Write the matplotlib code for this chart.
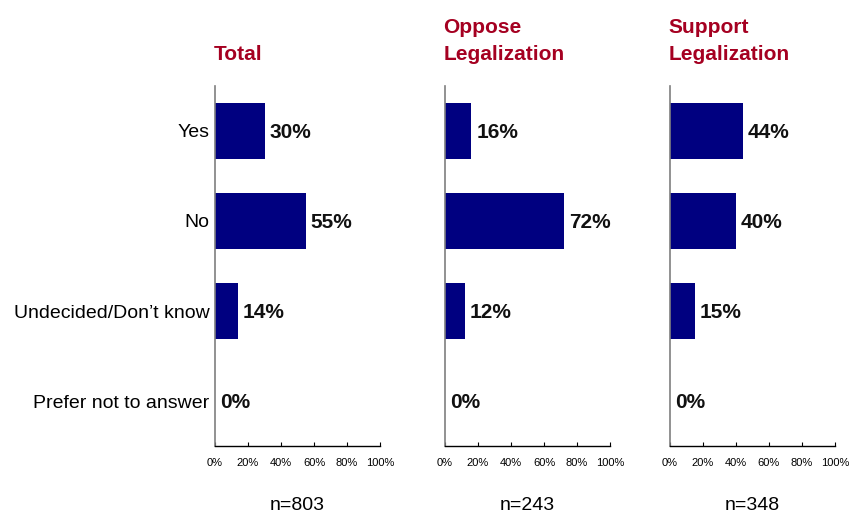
import matplotlib
matplotlib.use("Agg")
import matplotlib.pyplot as plt
from matplotlib.ticker import PercentFormatter

plt.rcParams['font.family'] = ['Liberation Sans', 'DejaVu Sans']

categories = ["Yes", "No", "Undecided/Don\u2019t know", "Prefer not to answer"]
panel_titles = ["Total", "Oppose\nLegalization", "Support\nLegalization"]
sample_sizes = ["n=803", "n=243", "n=348"]
total_values = [30, 55, 14, 0]
oppose_values = [16, 72, 12, 0]
support_values = [44, 40, 15, 0]
x_ticks = [0, 20, 40, 60, 80, 100]

series = [total_values, oppose_values, support_values]

W, H = 849, 517
fig = plt.figure(figsize=(W / 100, H / 100), dpi=100)

bar_color = "#000080"
title_color = "#A50021"

lefts_px = [215, 445, 670]
width_px = 165
top_px, bottom_px = 86, 446

for i, (vals, title, nlab) in enumerate(zip(series, panel_titles, sample_sizes)):
    ax = fig.add_axes([lefts_px[i] / W, (H - bottom_px) / H,
                       width_px / W, (bottom_px - top_px) / H])
    y = list(range(len(categories)))
    ax.barh(y, vals, height=0.63, color=bar_color)
    ax.set_ylim(len(categories) - 0.5, -0.5)
    ax.set_xlim(0, 100)
    for yi, v in zip(y, vals):
        ax.annotate(f"{v}%", xy=(v, yi), xytext=(3.5, -1), textcoords="offset points",
                    ha="left", va="center", fontsize=15, fontweight="bold", color="#111111")

    ax.set_xticks(x_ticks)
    ax.xaxis.set_major_formatter(PercentFormatter(decimals=0))
    ax.tick_params(axis="x", direction="in", length=3, width=0.8, labelsize=8,
                   pad=8.5, colors="black")
    ax.set_yticks(y)
    if i == 0:
        ax.set_yticklabels(categories, fontsize=14)
        ax.tick_params(axis="y", length=0, pad=4)
    else:
        ax.set_yticklabels([])
        ax.tick_params(axis="y", length=0)

    for s in ("top", "right"):
        ax.spines[s].set_visible(False)
    ax.spines["left"].set_color("#7f7f7f")
    ax.spines["left"].set_linewidth(1.2)
    ax.spines["bottom"].set_color("black")
    ax.spines["bottom"].set_linewidth(1.0)

    ax.text(-0.01, (bottom_px - 60) / (bottom_px - top_px), title,
            transform=ax.transAxes, ha="left", va="baseline",
            fontsize=15, fontweight="bold", color=title_color, linespacing=1.55)
    ax.text(0.5, -(505 - bottom_px) / (bottom_px - top_px), nlab,
            transform=ax.transAxes, ha="center", va="center", fontsize=14)

fig.savefig("out.png", dpi=100)
